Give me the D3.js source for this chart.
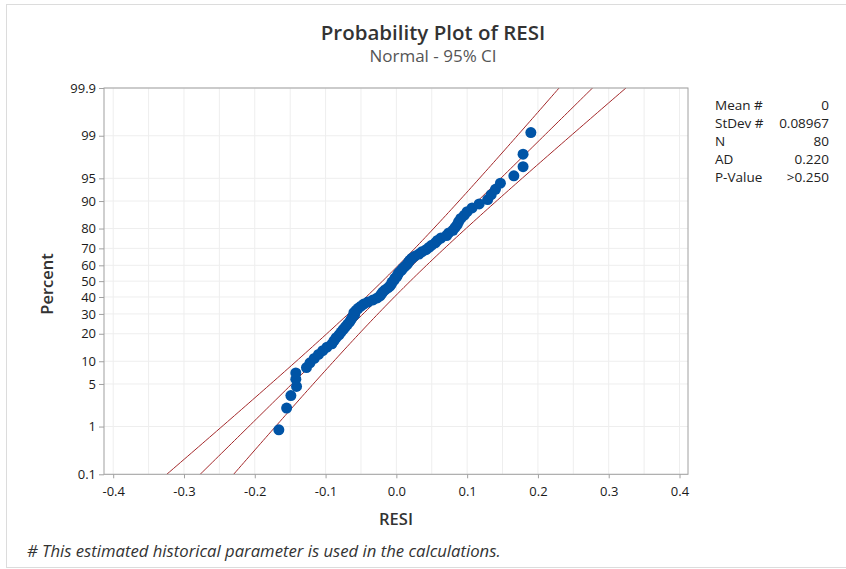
<!DOCTYPE html>
<html>
<head>
<meta charset="utf-8">
<script src="https://cdn.jsdelivr.net/npm/d3@7"></script>
<style>
  body { margin: 0; background: #fff; }
  svg { font-family: "Open Sans", "Noto Sans", sans-serif; }
</style>
</head>
<body>
<script>
var w = 846;
var h = 569;

// residuals, sorted
var resi = [
  -0.166, -0.155, -0.149, -0.141, -0.142, -0.142, -0.127, -0.122, -0.116, -0.110,
  -0.104, -0.098, -0.091, -0.088, -0.085, -0.081, -0.078, -0.075, -0.072, -0.069,
  -0.066, -0.064, -0.062, -0.059, -0.060, -0.057, -0.054, -0.050, -0.046, -0.040,
  -0.033, -0.027, -0.023, -0.021, -0.019, -0.016, -0.012, -0.009, -0.007, -0.006,
  -0.003, -0.002, 0.001, 0.002, 0.004, 0.007, 0.009, 0.012, 0.015, 0.017,
  0.019, 0.022, 0.026, 0.032, 0.036, 0.042, 0.046, 0.050, 0.055, 0.058,
  0.063, 0.071, 0.074, 0.080, 0.083, 0.086, 0.088, 0.091, 0.096, 0.100,
  0.107, 0.117, 0.129, 0.134, 0.140, 0.147, 0.166, 0.179, 0.179, 0.190
];

var xTicks = [-0.4, -0.3, -0.2, -0.1, 0, 0.1, 0.2, 0.3, 0.4];
var yTicks = [0.1, 1, 5, 10, 20, 30, 40, 50, 60, 70, 80, 90, 95, 99, 99.9];

var statLabels = ["Mean #", "StDev #", "N", "AD", "P-Value"];
var statValues = ["0", "0.08967", "80", "0.220", ">0.250"];

var meanVal = 0;
var stdevVal = 0.08967;
var nObs = 80;

// inverse normal cdf (Acklam)
function probit(p) {
  var a = [-39.69683028665376, 220.9460984245205, -275.9285104469687, 138.3577518672690, -30.66479806614716, 2.506628277459239];
  var b = [-54.47609879822406, 161.5858368580409, -155.6989798598866, 66.80131188771972, -13.28068155288572];
  var c = [-0.007784894002430293, -0.3223964580411365, -2.400758277161838, -2.549732539343734, 4.374664141464968, 2.938163982698783];
  var d = [0.007784695709041462, 0.3224671290700398, 2.445134137142996, 3.754408661907416];
  var q, r;
  if (p < 0.02425) {
    q = Math.sqrt(-2 * Math.log(p));
    return (((((c[0]*q+c[1])*q+c[2])*q+c[3])*q+c[4])*q+c[5]) / ((((d[0]*q+d[1])*q+d[2])*q+d[3])*q+1);
  } else if (p > 1 - 0.02425) {
    q = Math.sqrt(-2 * Math.log(1 - p));
    return -(((((c[0]*q+c[1])*q+c[2])*q+c[3])*q+c[4])*q+c[5]) / ((((d[0]*q+d[1])*q+d[2])*q+d[3])*q+1);
  }
  q = p - 0.5;
  r = q * q;
  return (((((a[0]*r+a[1])*r+a[2])*r+a[3])*r+a[4])*r+a[5])*q / (((((b[0]*r+b[1])*r+b[2])*r+b[3])*r+b[4])*r+1);
}

var plotL = 104, plotT = 88, plotR = 688, plotB = 474.3;

var xScale = d3.scaleLinear()
    .domain([-0.413, 0.412])
    .range([plotL, plotR]);

var zScale = d3.scaleLinear()
    .domain([probit(0.001), probit(0.999)])
    .range([plotB, plotT]);

function yPct(p) { return zScale(probit(p / 100)); }

var svg = d3.select("body")
    .append("svg")
    .attr("width", w)
    .attr("height", h);

// outer frame
svg.append("rect")
    .attr("x", 6.5).attr("y", 4.5)
    .attr("width", 900).attr("height", 563)
    .attr("fill", "none")
    .attr("stroke", "#dcdcdc");

svg.append("text")
    .attr("x", 433).attr("y", 40)
    .attr("text-anchor", "middle")
    .style("font-size", "20.5px")
    .style("font-weight", 600)
    .style("fill", "#333")
    .text("Probability Plot of RESI");

svg.append("text")
    .attr("x", 433).attr("y", 62)
    .attr("text-anchor", "middle")
    .style("font-size", "17px")
    .style("fill", "#555")
    .text("Normal - 95% CI");

// grid
var gridX = d3.range(-8, 9).map(function(k){ return k * 0.05; });
svg.append("g").selectAll("line")
    .data(gridX)
    .enter()
    .append("line")
    .attr("x1", function(d){ return xScale(d); })
    .attr("x2", function(d){ return xScale(d); })
    .attr("y1", plotT).attr("y2", plotB)
    .attr("stroke", "#eeeeee");

svg.append("g").selectAll("line")
    .data(yTicks)
    .enter()
    .append("line")
    .attr("x1", plotL).attr("x2", plotR)
    .attr("y1", function(d){ return yPct(d); })
    .attr("y2", function(d){ return yPct(d); })
    .attr("stroke", "#eeeeee");

// fit line and 95% CI
svg.append("clipPath").attr("id", "plotclip")
    .append("rect")
    .attr("x", plotL).attr("y", plotT)
    .attr("width", plotR - plotL).attr("height", plotB - plotT);

var zs = d3.range(-3.3, 3.31, 0.05);
var zcrit = 1.959964;
function band(k) {
  return zs.map(function(z){
    var se = stdevVal * Math.sqrt(1 / nObs + z * z / (2 * nObs));
    return [xScale(meanVal + z * stdevVal + k * zcrit * se), zScale(z)];
  });
}

var line = d3.line();
svg.append("g")
    .attr("clip-path", "url(#plotclip)")
    .selectAll("path")
    .data([-1, 0, 1])
    .enter()
    .append("path")
    .attr("d", function(k){ return line(band(k)); })
    .attr("fill", "none")
    .attr("stroke", "#a3282a")
    .attr("stroke-width", 1);

// points
svg.append("g").selectAll("circle")
    .data(resi)
    .enter()
    .append("circle")
    .attr("cx", function(d){ return xScale(d); })
    .attr("cy", function(d, i){ return zScale(probit((i + 1 - 0.3) / (nObs + 0.4))); })
    .attr("r", 5.5)
    .attr("fill", "#0054a6");

// plot frame
svg.append("rect")
    .attr("x", plotL).attr("y", plotT)
    .attr("width", plotR - plotL).attr("height", plotB - plotT)
    .attr("fill", "none")
    .attr("stroke", "#a0a0a0");

// axes
var xAxis = svg.append("g")
    .attr("transform", "translate(0," + plotB + ")")
    .call(d3.axisBottom(xScale)
        .tickValues(xTicks)
        .tickSize(4)
        .tickPadding(8)
        .tickFormat(function(d){ return d.toFixed(1); }));

var yAxis = svg.append("g")
    .attr("transform", "translate(" + plotL + ",0)")
    .call(d3.axisLeft(zScale)
        .tickValues(yTicks.map(function(p){ return probit(p / 100); }))
        .tickSize(5)
        .tickPadding(3)
        .tickFormat(function(d, i){ return String(yTicks[i]); }));

[xAxis, yAxis].forEach(function(g){
  g.select(".domain").remove();
  g.selectAll(".tick line").attr("stroke", "#a0a0a0");
  g.selectAll("text")
    .style("font-family", "Open Sans, Noto Sans, sans-serif")
    .style("font-size", "13px")
    .style("fill", "#1a1a1a");
});

svg.append("text")
    .attr("x", 396).attr("y", 525)
    .attr("text-anchor", "middle")
    .style("font-size", "16.5px")
    .style("font-weight", 600)
    .style("fill", "#333")
    .text("RESI");

svg.append("text")
    .attr("transform", "translate(53,284) rotate(-90)")
    .attr("text-anchor", "middle")
    .style("font-size", "16.5px")
    .style("font-weight", 600)
    .style("fill", "#333")
    .text("Percent");

// stats table
var stats = svg.append("g").style("font-size", "13.5px").style("fill", "#222");
stats.selectAll("text.lab")
    .data(statLabels)
    .enter()
    .append("text")
    .attr("class", "lab")
    .attr("x", 715)
    .attr("y", function(d, i){ return 110 + i * 18; })
    .text(function(d){ return d; });
stats.selectAll("text.val")
    .data(statValues)
    .enter()
    .append("text")
    .attr("class", "val")
    .attr("x", 829)
    .attr("y", function(d, i){ return 110 + i * 18; })
    .attr("text-anchor", "end")
    .text(function(d){ return d; });

svg.append("text")
    .attr("x", 27).attr("y", 557)
    .style("font-size", "16.7px")
    .style("font-style", "italic")
    .style("fill", "#333")
    .text("# This estimated historical parameter is used in the calculations.");
</script>
</body>
</html>
